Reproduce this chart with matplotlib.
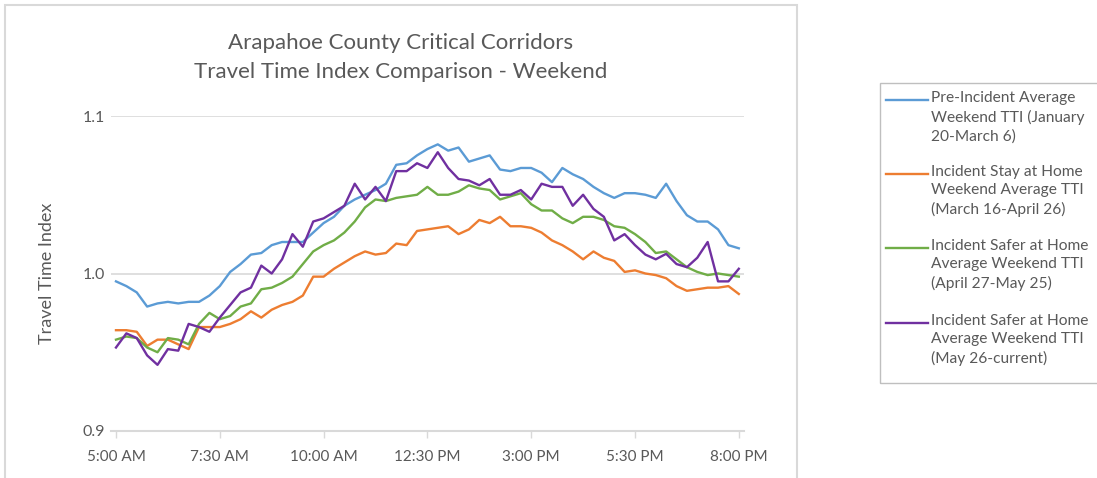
import matplotlib
matplotlib.use("Agg")
import matplotlib.pyplot as plt
from matplotlib.lines import Line2D
from matplotlib.patches import Rectangle
import numpy as np

plt.rcParams['font.family'] = ['Lato', 'DejaVu Sans']

# 15-minute intervals from 5:00 AM to 8:00 PM
times = np.arange(61)
tick_pos = [0, 10, 20, 30, 40, 50, 60]
tick_labels = ['5:00 AM', '7:30 AM', '10:00 AM', '12:30 PM', '3:00 PM', '5:30 PM', '8:00 PM']

pre_incident = [0.995, 0.992, 0.988, 0.979, 0.981, 0.982, 0.981, 0.982, 0.982, 0.986,
                0.992, 1.001, 1.006, 1.012, 1.013, 1.018, 1.020, 1.020, 1.020, 1.026,
                1.032, 1.036, 1.043, 1.047, 1.050, 1.053, 1.057, 1.069, 1.070, 1.075,
                1.079, 1.082, 1.078, 1.080, 1.071, 1.073, 1.075, 1.066, 1.065, 1.067,
                1.067, 1.064, 1.058, 1.067, 1.063, 1.060, 1.055, 1.051, 1.048, 1.051,
                1.051, 1.050, 1.048, 1.057, 1.046, 1.037, 1.033, 1.033, 1.028, 1.018,
                1.016]

stay_home = [0.964, 0.964, 0.963, 0.954, 0.958, 0.958, 0.955, 0.952, 0.966, 0.966,
             0.966, 0.968, 0.971, 0.976, 0.972, 0.977, 0.980, 0.982, 0.986, 0.998,
             0.998, 1.003, 1.007, 1.011, 1.014, 1.012, 1.013, 1.019, 1.018, 1.027,
             1.028, 1.029, 1.030, 1.025, 1.028, 1.034, 1.032, 1.036, 1.030, 1.030,
             1.029, 1.026, 1.021, 1.018, 1.014, 1.009, 1.014, 1.010, 1.008, 1.001,
             1.002, 1.000, 0.999, 0.997, 0.992, 0.989, 0.990, 0.991, 0.991, 0.992,
             0.987]

safer_home_1 = [0.958, 0.960, 0.959, 0.953, 0.950, 0.959, 0.958, 0.955, 0.968, 0.975,
                0.971, 0.973, 0.979, 0.981, 0.990, 0.991, 0.994, 0.998, 1.006, 1.014,
                1.018, 1.021, 1.026, 1.033, 1.042, 1.047, 1.046, 1.048, 1.049, 1.050,
                1.055, 1.050, 1.050, 1.052, 1.056, 1.054, 1.053, 1.047, 1.049, 1.051,
                1.044, 1.040, 1.040, 1.035, 1.032, 1.036, 1.036, 1.034, 1.030, 1.029,
                1.025, 1.020, 1.013, 1.014, 1.009, 1.004, 1.001, 0.999, 1.000, 0.999,
                0.998]

safer_home_2 = [0.953, 0.962, 0.959, 0.948, 0.942, 0.952, 0.951, 0.968, 0.966, 0.963,
                0.972, 0.980, 0.988, 0.991, 1.005, 1.000, 1.009, 1.025, 1.017, 1.033,
                1.035, 1.039, 1.043, 1.057, 1.047, 1.055, 1.046, 1.065, 1.065, 1.070,
                1.067, 1.077, 1.067, 1.060, 1.059, 1.056, 1.060, 1.050, 1.050, 1.053,
                1.047, 1.057, 1.055, 1.055, 1.043, 1.050, 1.041, 1.036, 1.021, 1.025,
                1.018, 1.012, 1.009, 1.0125, 1.006, 1.004, 1.010, 1.020, 0.995, 0.995,
                1.003]

series = [pre_incident, stay_home, safer_home_1, safer_home_2]
colors = ['#5B9BD5', '#ED7D31', '#70AD47', '#7030A0']
labels = ['Pre-Incident Average\nWeekend TTI (January\n20-March 6)',
          'Incident Stay at Home\nWeekend Average TTI\n(March 16-April 26)',
          'Incident Safer at Home\nAverage Weekend TTI\n(April 27-May 25)',
          'Incident Safer at Home\nAverage Weekend TTI\n(May 26-current)']

text_color = '#595959'
W, H = 1097, 478

fig = plt.figure(figsize=(10.97, 4.78), dpi=100)

# chart border
fig.patches.append(Rectangle((5 / W, -0.01), 792 / W, 1 - 5 / H + 0.01, transform=fig.transFigure,
                             fill=False, edgecolor='#d9d9d9', linewidth=1.5))

ax = fig.add_axes([110.8 / W, 47 / H, 633.2 / W, 315 / H])
for y, c in zip(series, colors):
    ax.plot(times, y, color=c, linewidth=1.7)

ax.set_xlim(-0.5, 60.5)
ax.set_ylim(0.9, 1.1)
ax.set_yticks([0.9, 1.0, 1.1])
ax.set_yticklabels(['0.9', '1.0', '1.1'])
ax.set_xticks(tick_pos)
ax.set_xticklabels(tick_labels)
ax.grid(axis='y', color='#d9d9d9', linewidth=1.2)
ax.set_axisbelow(True)
for s in ['top', 'right', 'left']:
    ax.spines[s].set_visible(False)
ax.spines['bottom'].set_color('#d9d9d9')
ax.spines['bottom'].set_linewidth(1.5)
ax.tick_params(axis='x', colors='#d9d9d9', labelcolor=text_color, length=5, width=1, labelsize=11, pad=9)
ax.tick_params(axis='y', length=0, labelcolor=text_color, labelsize=11.5, pad=4)
ax.set_ylabel('Travel Time Index', color=text_color, fontsize=13, labelpad=20)

fig.text(401 / W, 1 - 43 / H, 'Arapahoe County Critical Corridors', ha='center', va='center',
         fontsize=16, color=text_color)
fig.text(401 / W, 1 - 72 / H, 'Travel Time Index Comparison - Weekend', ha='center', va='center',
         fontsize=16, color=text_color)

# legend (first text line aligned with the handle, as in the original)
fig.patches.append(Rectangle((880 / W, 1 - 383 / H), 230 / W, 300 / H, transform=fig.transFigure,
                             fill=False, edgecolor='#bfbfbf', linewidth=1))
entry_tops = [100, 174, 248, 323]
for top, c, lab in zip(entry_tops, colors, labels):
    fy = 1 - top / H
    fig.add_artist(Line2D([886 / W, 928 / W], [fy, fy], transform=fig.transFigure, color=c, linewidth=1.7))
    fig.text(931 / W, fy + 9 / H, lab, ha='left', va='top', fontsize=11.2, color=text_color,
             linespacing=1.38)

fig.savefig('out.png', dpi=100)
